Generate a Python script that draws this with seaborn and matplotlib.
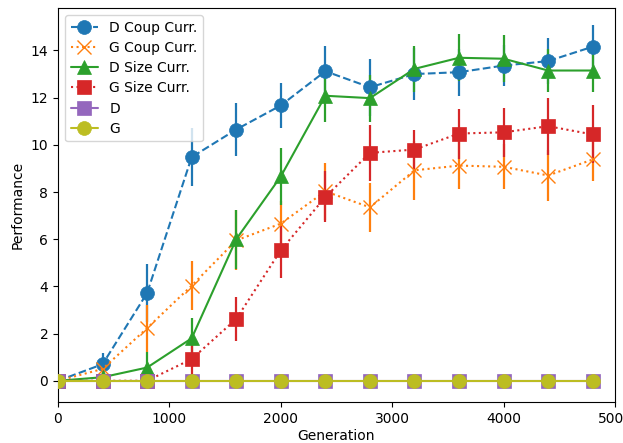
import numpy as np
import pandas as pd
import matplotlib
matplotlib.use("Agg")
import matplotlib.pyplot as plt
import seaborn as sns

generations = [0, 400, 800, 1200, 1600, 2000, 2400, 2800, 3200, 3600, 4000, 4400, 4800]

d_coup = [0, 0.70, 3.72, 9.48, 10.65, 11.67, 13.12, 12.44, 13.00, 13.08, 13.36, 13.55, 14.16]
d_coup_err = [0, 0.47, 1.24, 1.22, 1.13, 0.95, 1.09, 1.20, 1.12, 0.99, 0.88, 0.99, 0.90]

g_coup = [0, 0.50, 2.23, 4.03, 5.95, 6.66, 8.03, 7.35, 8.92, 9.12, 9.07, 8.70, 9.38]
g_coup_err = [0, 0.30, 0.99, 1.05, 1.27, 0.95, 1.20, 1.05, 1.24, 0.98, 0.96, 1.09, 0.92]

d_size = [0, 0.15, 0.56, 1.80, 6.00, 8.66, 12.08, 11.98, 13.22, 13.69, 13.65, 13.15, 13.15]
d_size_err = [0, 0.10, 0.65, 0.86, 1.25, 1.22, 1.10, 1.00, 0.99, 0.99, 0.99, 0.92, 0.92]

g_size = [0, 0, 0, 0.92, 2.62, 5.53, 7.79, 9.66, 9.80, 10.48, 10.53, 10.79, 10.44]
g_size_err = [0, 0, 0, 0.82, 0.94, 1.17, 1.08, 1.20, 0.82, 1.06, 1.03, 1.20, 1.23]

d_base = [0] * 13
g_base = [0] * 13

series_names = ["D Coup Curr.", "G Coup Curr.", "D Size Curr.", "G Size Curr.", "D", "G"]
series_vals = [d_coup, g_coup, d_size, g_size, d_base, g_base]
series_errs = [d_coup_err, g_coup_err, d_size_err, g_size_err, [0] * 13, [0] * 13]

colors = ["#1f77b4", "#ff7f0e", "#2ca02c", "#d62728", "#9467bd", "#bcbd22"]
markers = ["o", "x", "^", "s", "s", "o"]
linestyles = ["--", ":", "-", ":", "-", "-"]

sns.set_style("ticks", rc={"axes.edgecolor": "black", "xtick.color": "black",
                           "ytick.color": "black", "text.color": "black",
                           "axes.labelcolor": "black"})
plt.rcParams["font.family"] = ["DejaVu Sans"]
plt.rcParams["font.size"] = 10

fig = plt.figure(figsize=(6.23, 4.43), dpi=100)
ax = fig.add_axes([58 / 623, 1 - 402 / 443, (615 - 58) / 623, (402 - 8) / 443])

for name, vals, errs, c, m, ls in zip(series_names, series_vals, series_errs,
                                      colors, markers, linestyles):
    df = pd.DataFrame({"Generation": generations, "Performance": vals})
    if any(e > 0 for e in errs):
        ax.errorbar(generations, vals, yerr=errs, fmt="none", ecolor=c,
                    elinewidth=1.6, capsize=0, zorder=2)
    sns.lineplot(data=df, x="Generation", y="Performance", ax=ax, color=c,
                 marker=m, linestyle=ls, markersize=10, linewidth=1.5,
                 markeredgecolor=c, markeredgewidth=1.0 if m == "x" else 0.5,
                 label=name, zorder=3)

ax.set_xlim(0, 5000)
ax.set_ylim(-0.9, 15.8)
ax.set_xticks([0, 1000, 2000, 3000, 4000, 5000])
ax.set_yticks([0, 2, 4, 6, 8, 10, 12, 14])
ax.set_xlabel("Generation", labelpad=2.5)
ax.set_ylabel("Performance")
ax.tick_params(direction="out", length=3.5, width=0.8, labelsize=10)
for sp in ax.spines.values():
    sp.set_visible(True)
    sp.set_linewidth(0.8)
ax.legend(loc="upper left", fontsize=10, frameon=True, labelspacing=0.45)

fig.savefig("out.png", dpi=100)
